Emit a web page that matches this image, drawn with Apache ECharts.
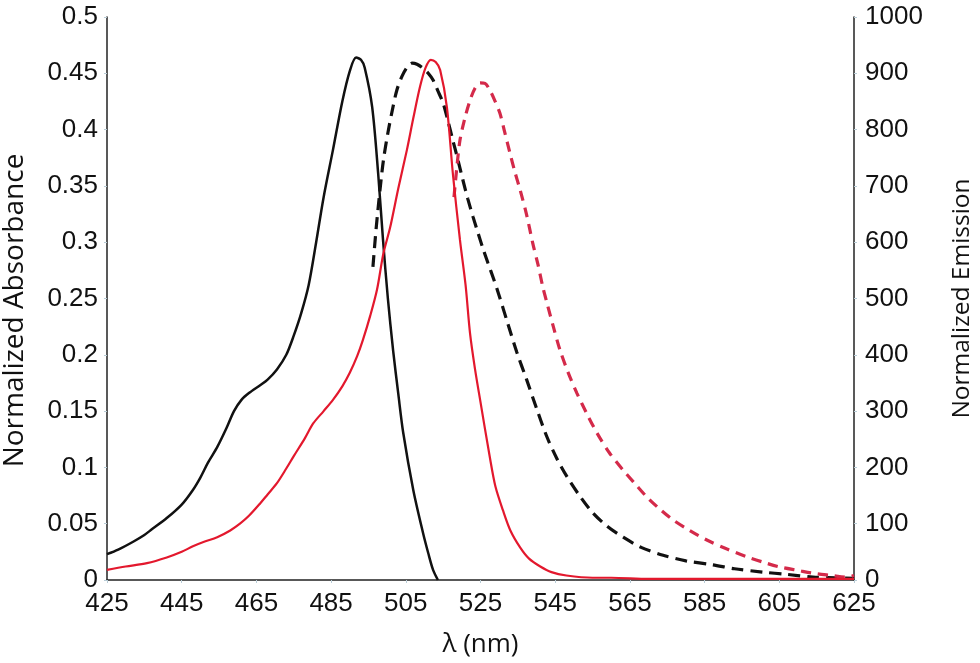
<!DOCTYPE html>
<html>
<head>
<meta charset="utf-8">
<script src="https://cdn.jsdelivr.net/npm/echarts@6/dist/echarts.min.js"></script>
<style>html,body{margin:0;padding:0;background:#fff}#c{width:980px;height:663px}</style>
</head>
<body>
<div id="c"></div>
<script>
// x tick labels (nm)
const xTicks = [425, 445, 465, 485, 505, 525, 545, 565, 585, 605, 625];

// Absorbance (left axis) — black solid
const absBlack = [
  [425,0.023],[428,0.027],[432,0.034],[435,0.040],[437,0.045],[441,0.055],[445,0.067],
  [448,0.080],[450,0.091],[452,0.104],[454.5,0.118],[457,0.135],[459,0.150],[461,0.160],
  [463,0.166],[466,0.173],[468,0.178],[470.5,0.187],[473,0.200],[475,0.217],[477,0.237],
  [479,0.262],[481,0.300],[483,0.340],[485.5,0.382],[488,0.425],[490,0.452],[491.7,0.464],
  [493,0.462],[494,0.455],[496,0.420],[497.6,0.361],[498.9,0.302],[500.2,0.250],[501.6,0.204],
  [503,0.165],[504.3,0.131],[507,0.080],[509.6,0.042],[511,0.024],[512.3,0.009],[513.6,0.000]
];

// Absorbance (left axis) — red solid
const absRed = [
  [425,0.009],[430,0.012],[435.7,0.015],[441,0.020],[445,0.025],[448,0.030],[451,0.034],
  [454.5,0.038],[458,0.044],[460.6,0.050],[463,0.057],[466,0.068],[468,0.076],[470.5,0.086],
  [473,0.099],[475,0.110],[478,0.126],[480.2,0.139],[483,0.150],[485.5,0.160],[488,0.172],
  [490,0.184],[492,0.199],[493.5,0.213],[495.5,0.235],[497.3,0.258],[499,0.290],[500.8,0.313],
  [503,0.348],[505.3,0.382],[507,0.410],[508.8,0.438],[510.3,0.455],[511.7,0.462],[513,0.460],
  [514.2,0.453],[516,0.420],[517.6,0.361],[519.5,0.302],[521,0.262],[522.2,0.219],[523.5,0.188],
  [524.9,0.160],[527.5,0.109],[529,0.083],[531,0.062],[533,0.044],[535.6,0.029],[538,0.019],
  [541,0.012],[544,0.007],[548,0.004],[555,0.002],[560,0.002],[570,0.001],[600,0.001],[625,0.001]
];

// Emission (right axis) — black dashed
const emBlack = [
  [496.2,556],[497,620],[498,687],[499,745],[500.2,794],[501.5,838],[502.6,870],[504,895],
  [505.5,912],[506.7,918],[508,916],[509.6,909],[511,900],[512.3,888],[513.5,870],[515,847],
  [516.3,815],[517.6,781],[519,745],[520.3,710],[521.6,677],[523,645],[524.4,615],[525.7,588],
  [527,563],[528.5,535],[530,505],[532.1,460],[534.7,405],[537.4,355],[540,305],[542.8,254],
  [545.5,215],[548.2,183],[551.5,150],[555.1,119],[559,95],[563.2,76],[568,58],[573.9,44],
  [580,34],[587.2,27],[593,20],[600.6,14],[607,10],[614,5],[620,4],[625,3]
];

// Emission (right axis) — red dashed
const emRed = [
  [517.9,680],[518.7,735],[519.5,781],[520.8,820],[522.2,852],[523.5,873],[524.9,883],
  [526.2,882],[527.5,870],[528.8,852],[530.2,829],[531.5,795],[532.9,758],[534.2,725],
  [535.6,693],[537.3,650],[539,598],[540.4,560],[541.7,520],[542.8,492],[544.5,450],
  [546.3,408],[548.5,368],[550.8,332],[553.5,295],[556.2,261],[559.5,226],[563.2,195],
  [566.5,170],[569.6,147],[573,126],[576.5,107],[581,88],[585.6,71],[591,55],[596.4,41],
  [601,31],[605.2,23],[610,17],[614,12],[619,8],[623,5],[625,8]
];

const tickFont = {fontFamily:'Liberation Sans', fontSize:26, color:'#111'};
const axisLine = {show:true, lineStyle:{color:'#222', width:1.5}};
const axisTick = {show:true, length:3, lineStyle:{color:'#b8ccd6', width:1}};

const chart = echarts.init(document.getElementById('c'), null, {renderer:'canvas'});
chart.setOption({
  animation:false,
  backgroundColor:'#fff',
  grid:{left:107, right:126, top:17, bottom:83, containLabel:false, outerBoundsMode:'none'},
  xAxis:{
    type:'value', min:425, max:625,
    name:'λ (nm)', nameLocation:'middle', nameGap:52,
    nameTextStyle:{fontFamily:'Open Sans', fontSize:26, color:'#111'},
    axisLine:axisLine,
    axisTick:Object.assign({customValues:xTicks}, axisTick),
    axisLabel:Object.assign({customValues:xTicks, margin:11}, tickFont),
    splitLine:{show:false}
  },
  yAxis:[{
    type:'value', min:0, max:0.5, interval:0.05, position:'left',
    name:'Normalized Absorbance', nameLocation:'middle', nameGap:78,
    nameTextStyle:{fontFamily:'Open Sans', fontSize:28, color:'#111', padding:[0,24,0,0]},
    axisLine:axisLine, axisTick:axisTick,
    axisLabel:Object.assign({margin:9}, tickFont),
    splitLine:{show:false}
  },{
    type:'value', min:0, max:1000, interval:100, position:'right',
    name:'Normalized Emission', nameLocation:'middle', nameGap:96,
    nameTextStyle:{fontFamily:'Open Sans', fontSize:24.5, color:'#111'},
    axisLine:axisLine, axisTick:axisTick,
    axisLabel:Object.assign({margin:11, formatter:function(v){return String(v);}}, tickFont),
    splitLine:{show:false}
  }],
  series:[
    {type:'line', yAxisIndex:0, data:absBlack, showSymbol:false, smooth:0.3,
     lineStyle:{color:'#111', width:2.5}, z:2},
    {type:'line', yAxisIndex:1, data:emBlack, showSymbol:false, smooth:0.3,
     lineStyle:{color:'#111', width:3.2, type:[12,7]}, z:3},
    {type:'line', yAxisIndex:1, data:emRed, showSymbol:false, smooth:0.3,
     lineStyle:{color:'#d42a4a', width:3.2, type:[10,7]}, z:4},
    {type:'line', yAxisIndex:0, data:absRed, showSymbol:false, smooth:0.3,
     lineStyle:{color:'#e3182d', width:2.2}, z:5}
  ]
});
</script>
</body>
</html>
